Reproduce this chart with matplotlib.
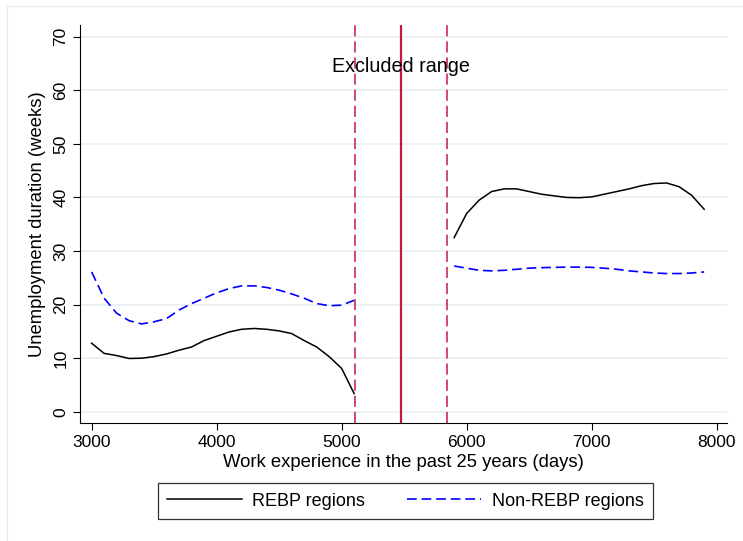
import matplotlib
matplotlib.use('Agg')
import matplotlib.pyplot as plt
from matplotlib.patches import Rectangle

plt.rcParams['font.family'] = ['Liberation Sans', 'DejaVu Sans']
plt.rcParams['lines.scale_dashes'] = False

# work experience (days) at 100-day steps
days_left = [3000, 3100, 3200, 3300, 3400, 3500, 3600, 3700, 3800, 3900, 4000,
             4100, 4200, 4300, 4400, 4500, 4600, 4700, 4800, 4900, 5000, 5100]
days_right = [5900, 6000, 6100, 6200, 6300, 6400, 6500, 6600, 6700, 6800, 6900,
              7000, 7100, 7200, 7300, 7400, 7500, 7600, 7700, 7800, 7900]

# REBP regions
rebp_left = [12.8, 10.9, 10.5, 9.95, 10.0, 10.3, 10.8, 11.5, 12.1, 13.3, 14.1,
             14.9, 15.4, 15.55, 15.4, 15.1, 14.6, 13.3, 12.1, 10.3, 8.1, 3.4]
rebp_right = [32.5, 37.0, 39.5, 41.1, 41.6, 41.6, 41.1, 40.6, 40.3, 40.0, 39.95,
              40.1, 40.6, 41.1, 41.6, 42.2, 42.6, 42.7, 42.0, 40.4, 37.8]

# Non-REBP regions
non_left = [26.1, 21.2, 18.4, 17.0, 16.4, 16.8, 17.4, 19.0, 20.2, 21.2, 22.2,
            23.0, 23.5, 23.5, 23.2, 22.7, 22.0, 21.2, 20.2, 19.8, 19.9, 20.8]
non_right = [27.2, 26.8, 26.4, 26.3, 26.4, 26.6, 26.8, 26.9, 26.95, 27.0, 27.0,
             26.95, 26.8, 26.6, 26.3, 26.1, 25.9, 25.8, 25.8, 25.9, 26.1]

cutoff = 5475
excl_lo, excl_hi = 5110, 5840

xticks = [3000, 4000, 5000, 6000, 7000, 8000]
yticks = [0, 10, 20, 30, 40, 50, 60, 70]

red = '#c8173e'
fig = plt.figure(figsize=(7.43, 5.41), dpi=100)
ax = fig.add_axes([0.108, 0.218, 0.870, 0.736])

# light frame of the graph region
fig.patches.append(Rectangle((7 / 743, -0.1), 1.2, 1 - 6 / 541 + 0.1,
                             transform=fig.transFigure, fill=False,
                             edgecolor='#e6ecef', lw=1))

for y in yticks:
    ax.axhline(y, color='#eaf1f2', lw=1.3, zorder=0)

ax.plot(days_left, rebp_left, color='black', lw=1.1)
ax.plot(days_right, rebp_right, color='black', lw=1.1, label='REBP regions')
ax.plot(days_left, non_left, color='#0000ff', lw=1.2, dashes=[7, 3.5])
ax.plot(days_right, non_right, color='#0000ff', lw=1.2, dashes=[7, 3.5],
        label='Non-REBP regions')

ax.axvline(cutoff, color=red, lw=1.6)
ax.axvline(excl_lo, color=red, lw=1.1, dashes=[8, 3.6])
ax.axvline(excl_hi, color=red, lw=1.1, dashes=[8, 3.6])

ax.text(cutoff, 64.4, 'Excluded range', ha='center', va='center', fontsize=14.2)

ax.set_xlim(2909, 8080)
ax.set_ylim(-2.1, 72.2)
ax.set_xticks(xticks)
ax.set_yticks(yticks)
ax.set_yticklabels([str(v) for v in yticks], rotation=90, va='center')
ax.tick_params(labelsize=12.5, length=5, width=0.8, colors='black')
ax.spines['top'].set_visible(False)
ax.spines['right'].set_visible(False)
ax.set_xlabel('Work experience in the past 25 years (days)', fontsize=13.3, labelpad=3)
ax.set_ylabel('Unemployment duration (weeks)', fontsize=13.3, labelpad=5)

leg = fig.legend(loc='center', bbox_to_anchor=(405.5 / 743, 1 - 501 / 541),
                 ncol=2, fontsize=13, frameon=True, fancybox=False,
                 edgecolor='black', handlelength=4.1, columnspacing=2.3,
                 borderpad=0.5, borderaxespad=0, handletextpad=0.6)
leg.get_frame().set_linewidth(0.9)

fig.savefig('out.png', dpi=100)
